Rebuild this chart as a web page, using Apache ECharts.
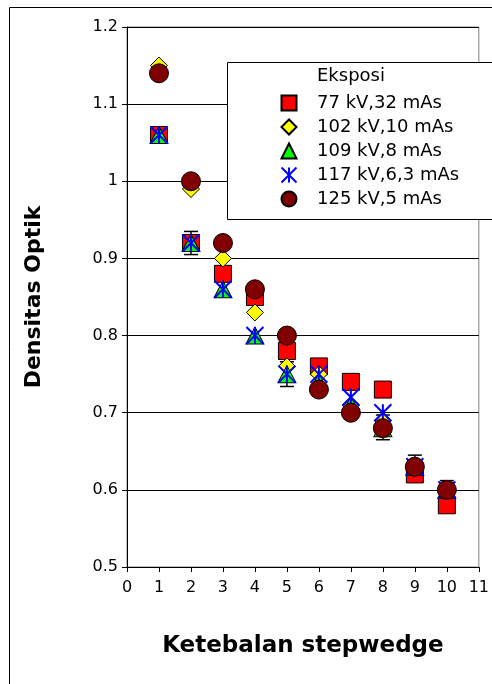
<!DOCTYPE html>
<html>
<head>
<meta charset="utf-8">
<script src="https://cdn.jsdelivr.net/npm/echarts@6/dist/echarts.min.js"></script>
<style>html,body{margin:0;padding:0;background:#fff}#c{width:492px;height:684px}</style>
</head>
<body>
<div id="c"></div>
<script>
var thickness = [1, 2, 3, 4, 5, 6, 7, 8, 9, 10];
var s77  = [1.06, 0.92, 0.88, 0.85, 0.78, 0.76, 0.74, 0.73, 0.62, 0.58];
var s102 = [1.15, 0.99, 0.90, 0.83, 0.76, 0.75, 0.71, 0.69, 0.63, 0.60];
var s109 = [1.06, 0.92, 0.86, 0.80, 0.75, 0.74, 0.71, 0.68, 0.63, 0.60];
var s117 = [1.06, 0.92, 0.86, 0.80, 0.75, 0.75, 0.72, 0.70, 0.63, 0.60];
var s125 = [1.14, 1.00, 0.92, 0.86, 0.80, 0.73, 0.70, 0.68, 0.63, 0.60];
var errX    = [2, 5, 8, 9, 10];
var errLow  = [0.905, 0.734, 0.665, 0.615, 0.590];
var errHigh = [0.935, 0.766, 0.697, 0.645, 0.612];
var seriesNames = ['77 kV,32 mAs', '102 kV,10 mAs', '109 kV,8 mAs', '117 kV,6,3 mAs', '125 kV,5 mAs'];

function pairs(ys) { return thickness.map(function (x, i) { return [x, ys[i]]; }); }
var errData = errX.map(function (x, i) { return [x, errLow[i], errHigh[i]]; });

var chart = echarts.init(document.getElementById('c'));
var font = 'DejaVu Sans';
chart.setOption({
  animation: false,
  backgroundColor: '#fff',
  grid: { left: 127, top: 27, right: 10, bottom: 117, show: true, borderColor: '#808080', borderWidth: 1 },
  xAxis: {
    type: 'value', min: 0, max: 11, interval: 1,
    name: 'Ketebalan stepwedge', nameLocation: 'middle', nameGap: 68,
    nameTextStyle: { fontFamily: font, fontWeight: 'bold', fontSize: 23, color: '#000' },
    axisLine: { show: true, onZero: false, lineStyle: { color: '#000', width: 1 } },
    axisTick: { show: true, inside: false, length: 5, lineStyle: { color: '#000' } },
    axisLabel: { fontFamily: font, fontSize: 16, color: '#000', margin: 13 },
    splitLine: { show: false }
  },
  yAxis: {
    type: 'value', min: 0.5, max: 1.2, interval: 0.1,
    name: 'Densitas Optik', nameLocation: 'middle', nameGap: 82,
    nameTextStyle: { fontFamily: font, fontWeight: 'bold', fontSize: 22, color: '#000' },
    axisLine: { show: true, onZero: false, lineStyle: { color: '#000', width: 1 } },
    axisTick: { show: true, inside: false, length: 5, lineStyle: { color: '#000' } },
    axisLabel: { fontFamily: font, fontSize: 16, color: '#000', margin: 9,
      formatter: function (v) { var r = Math.round(v * 10) / 10; return String(r); } },
    splitLine: { show: true, lineStyle: { color: '#000', width: 1 } }
  },
  legend: {
    orient: 'vertical', left: 275.5, top: 89, itemWidth: 15, itemHeight: 15, itemGap: 6,
    textStyle: { fontFamily: font, fontSize: 18, color: '#000', lineHeight: 18, padding: [0, 0, 0, 15.5] },
    data: seriesNames, z: 6
  },
  graphic: [
    { type: 'rect', z: 0, silent: true,
      shape: { x: 9.5, y: 7.5, width: 600, height: 800 }, style: { fill: 'none', stroke: '#000', lineWidth: 1 } },
    { type: 'rect', z: 5, silent: true,
      shape: { x: 227.5, y: 62.5, width: 400, height: 157 }, style: { fill: '#fff', stroke: '#000', lineWidth: 1 } },
    { type: 'text', left: 317, top: 67, z: 6, silent: true,
      style: { text: 'Eksposi', fontFamily: font, fontSize: 18, fill: '#000' } }
  ],
  series: [
    {
      type: 'custom', name: 'err', z: 1, silent: true,
      data: errData,
      renderItem: function (params, api) {
        var x = api.value(0);
        var lo = api.coord([x, api.value(1)]);
        var hi = api.coord([x, api.value(2)]);
        var w = 7;
        var st = { stroke: '#000', lineWidth: 1.5 };
        return { type: 'group', children: [
          { type: 'line', shape: { x1: lo[0], y1: lo[1], x2: hi[0], y2: hi[1] }, style: st },
          { type: 'line', shape: { x1: lo[0] - w, y1: lo[1], x2: lo[0] + w, y2: lo[1] }, style: st },
          { type: 'line', shape: { x1: hi[0] - w, y1: hi[1], x2: hi[0] + w, y2: hi[1] }, style: st }
        ] };
      }
    },
    { type: 'scatter', name: seriesNames[0], data: pairs(s77), symbol: 'rect', symbolSize: 17, z: 2,
      itemStyle: { color: '#ff0000', borderColor: '#000', borderWidth: 1, opacity: 1 } },
    { type: 'scatter', name: seriesNames[1], data: pairs(s102), symbol: 'diamond', symbolSize: 17, z: 3,
      itemStyle: { color: '#ffff00', borderColor: '#000', borderWidth: 1, opacity: 1 } },
    { type: 'scatter', name: seriesNames[2], data: pairs(s109), symbol: 'triangle', symbolSize: [18, 17], z: 4,
      itemStyle: { color: '#00ff00', borderColor: '#000', borderWidth: 1, opacity: 1 } },
    { type: 'scatter', name: seriesNames[3], data: pairs(s117), symbol: 'path://M0,0L10,10M10,0L0,10M5,0L5,10', symbolSize: 17, z: 5,
      itemStyle: { color: 'rgba(0,0,0,0)', borderColor: '#0000ff', borderWidth: 2, opacity: 1 } },
    { type: 'scatter', name: seriesNames[4], data: pairs(s125), symbol: 'circle', symbolSize: 19, z: 6,
      itemStyle: { color: '#800000', borderColor: '#000', borderWidth: 1, opacity: 1 } }
  ]
});
</script>
</body>
</html>
